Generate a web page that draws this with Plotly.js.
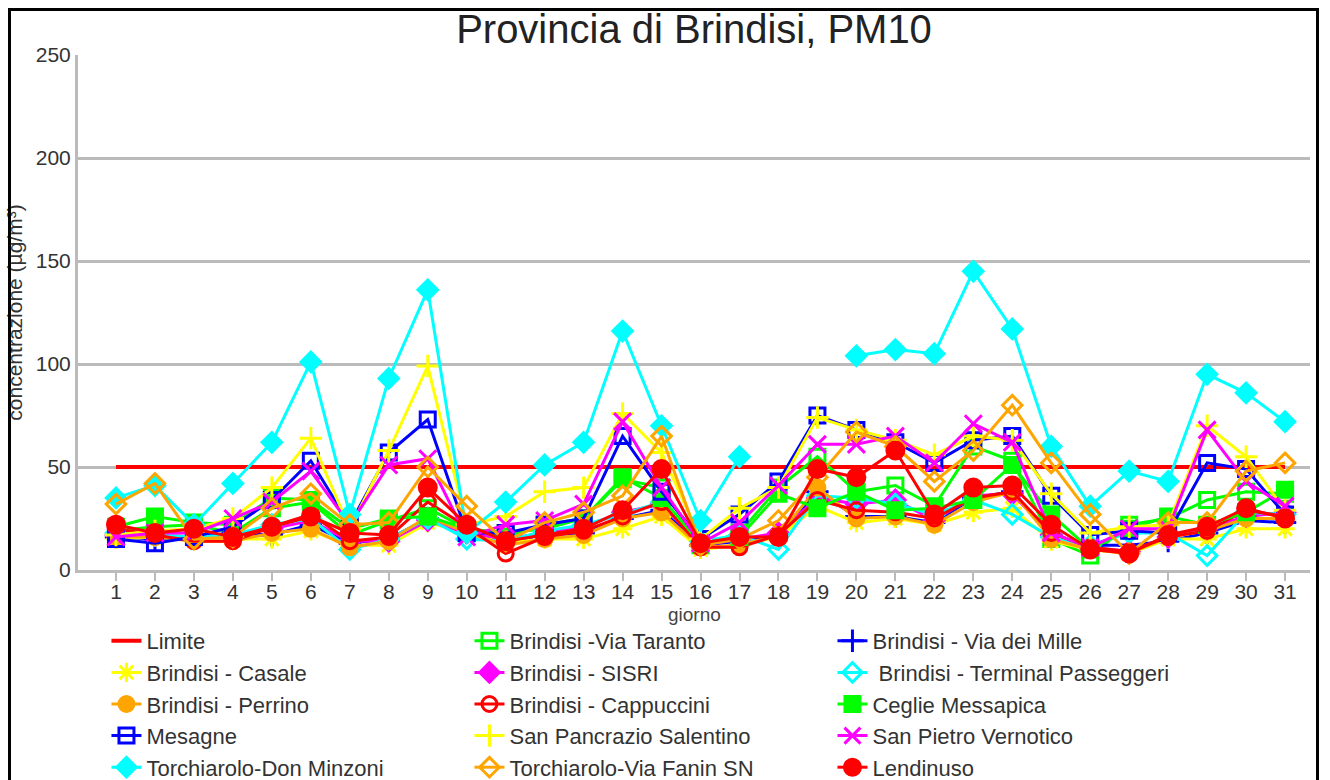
<!DOCTYPE html>
<html>
<head>
<meta charset="utf-8">
<script src="https://cdn.plot.ly/plotly-3.0.1.min.js"></script>
<style>
html,body{margin:0;padding:0;background:#fff;}
#wrap{position:relative;width:1330px;height:780px;}
#chart{width:1330px;height:780px;}
#frame{position:absolute;left:8px;top:8px;width:1311px;height:780px;border:3px solid #000;border-bottom:none;pointer-events:none;box-sizing:border-box;}
</style>
</head>
<body>
<div id="wrap"><div id="chart"></div><div id="frame"></div></div>
<script>
const days = [1,2,3,4,5,6,7,8,9,10,11,12,13,14,15,16,17,18,19,20,21,22,23,24,25,26,27,28,29,30,31];
const limite = days.map(() => 50);
const viaTaranto   = [19,21,22,18,30,33,17,24,30,20,18,20,25,44,40,12,18,40,55,38,41,31,60,53,15,7,22,25,34,38,37];
const viaDeiMille  = [16,15,16,18,17,22,13,15,25,18,14,17,18,25,29,12,14,17,38,26,26,23,35,38,17,12,12,14,18,24,23];
const casale       = [15,16,15,15,15,19,12,12,23,18,13,15,15,20,26,10,12,16,31,23,25,22,28,30,14,10,8,15,15,20,20];
const sisri        = [17,17,16,16,20,24,14,14,24,18,15,18,21,28,32,12,15,18,35,32,34,24,36,37,17,11,9,16,20,26,28];
const terminal     = [18,17,16,17,22,25,10,15,25,15,14,19,22,27,33,14,17,10,36,35,32,27,34,27,16,12,18,18,7,28,27];
const perrino      = [16,16,14,14,18,20,11,14,26,18,12,15,17,25,28,11,12,17,40,25,26,22,33,38,15,10,8,16,19,25,25];
const cappuccini   = [20,17,14,14,21,27,14,16,33,21,8,16,19,26,33,11,11,17,34,29,28,25,35,38,18,11,9,16,19,29,26];
const ceglie       = [21,26,23,22,35,34,20,25,26,20,16,22,25,45,35,13,16,37,30,38,29,30,34,51,27,10,20,26,22,28,39];
const mesagne      = [15,13,16,21,34,53,22,57,73,18,18,22,25,65,38,15,27,43,75,68,62,52,63,65,36,17,19,18,52,49,27];
const sanPancrazio = [17,19,20,25,40,64,20,58,99,22,26,38,40,76,57,15,30,40,74,68,63,56,65,63,37,18,21,22,70,55,29];
const sanPietro    = [16,18,18,25,33,48,22,51,54,16,22,24,32,72,40,13,23,41,61,61,65,52,71,62,18,11,20,20,68,43,31];
const donMinzoni   = [35,41,22,42,62,101,27,93,136,18,33,51,62,116,70,24,55,null,null,104,107,105,145,117,60,31,48,43,95,86,72];
const fanin        = [32,42,15,16,30,37,22,23,50,31,14,23,28,36,65,12,15,24,45,67,60,43,58,80,52,27,8,23,23,48,52];
const lendinuso    = [22,18,20,16,21,26,18,17,40,22,14,17,20,29,49,13,16,16,49,45,58,27,40,41,22,10,8,17,21,30,25];

const names = ["Limite","Brindisi -Via Taranto","Brindisi - Via dei Mille","Brindisi - Casale","Brindisi - SISRI"," Brindisi - Terminal Passeggeri","Brindisi - Perrino","Brindisi - Cappuccini","Ceglie Messapica","Mesagne","San Pancrazio Salentino","San Pietro Vernotico","Torchiarolo-Don Minzoni","Torchiarolo-Via Fanin SN","Lendinuso"];
const series = [limite,viaTaranto,viaDeiMille,casale,sisri,terminal,perrino,cappuccini,ceglie,mesagne,sanPancrazio,sanPietro,donMinzoni,fanin,lendinuso];
const colors = ["#ff0000","#00ff00","#0000ff","#ffff00","#ff00ff","#00ffff","#ffa500","#ff0000","#00ff00","#0000ff","#ffff00","#ff00ff","#00ffff","#ffa500","#ff0000"];
const symbols = [null,"square-open","cross-thin-open","asterisk-open","diamond","diamond-open","circle","circle-open","square","square-open","cross-thin-open","x-thin-open","diamond","diamond-open","circle"];
const sizes = [0,15,16,16,15,15,15,15,15,15,16,17,15,15,17];

const traces = series.map((ys,i) => {
  const t = {x: days, y: ys, name: names[i], type:'scatter', line:{color:colors[i], width: i===0?4:3}};
  if (i===0) { t.mode='lines'; }
  else {
    t.mode='lines+markers';
    t.marker={symbol:symbols[i], size:sizes[i], color:colors[i], line:{color:colors[i], width:3}};
  }
  return t;
});

const layout = {
  width:1330, height:780,
  paper_bgcolor:'#fff', plot_bgcolor:'#fff',
  margin:{l:78, r:20, t:55, b:210},
  font:{family:'Liberation Sans, Arial, sans-serif', color:'#333'},
  title:{text:'Provincia di Brindisi, PM10', font:{size:40, color:'#222'}, x:0.5, xref:'paper', y:0.963, yref:'container', yanchor:'middle'},
  xaxis:{range:[0.025,31.64], tickvals:days, ticktext:days.map(String), showgrid:false, zeroline:false,
         showline:true, linecolor:'#bbbbbb', linewidth:3, ticks:'outside', tickcolor:'#bbbbbb', ticklen:8, tickwidth:2,
         ticklabelstandoff:-7,
         tickfont:{size:21, color:'#333'}},
  yaxis:{range:[0,250], dtick:50, showgrid:true, gridcolor:'#bbbbbb', gridwidth:3, zeroline:false,
         showline:true, linecolor:'#bbbbbb', linewidth:3, ticks:'', tickfont:{size:21, color:'#333'},
         title:{text:'concentrazione (µg/m³)', font:{size:21, color:'#333'}, standoff:8}},
  annotations:[{text:'giorno', xref:'paper', x:0.5, yref:'paper', y:-44/515, yanchor:'middle', xanchor:'center',
                showarrow:false, font:{size:19, color:'#444'}}],
  showlegend:true,
  legend:{orientation:'h', x:0.0231, xref:'paper', y:1-620/780, yref:'container', yanchor:'top', xanchor:'left',
          entrywidth:318, entrywidthmode:'pixels', itemwidth:30, tracegroupgap:0,
          font:{size:22, color:'#333'}, bgcolor:'rgba(0,0,0,0)'}
};
Plotly.newPlot('chart', traces, layout, {displayModeBar:false, staticPlot:true});
</script>
</body>
</html>
